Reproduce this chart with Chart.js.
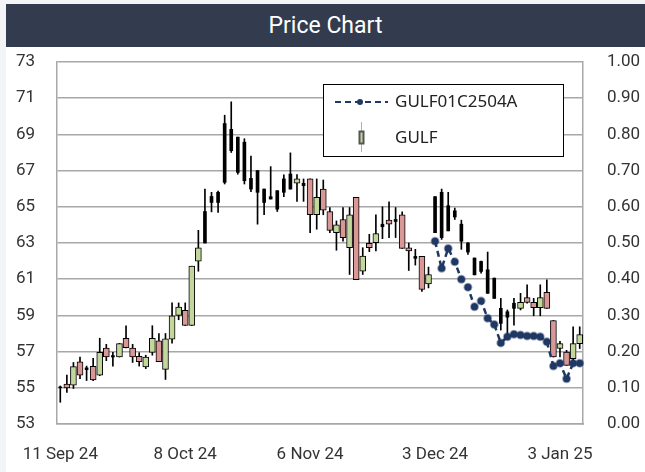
<!DOCTYPE html>
<html>
<head>
<meta charset="utf-8">
<script src="https://cdn.jsdelivr.net/npm/chart.js@4"></script>
<style>
  html, body { margin: 0; padding: 0; background: #f3f4f6; }
  #wrap { position: absolute; left: 6px; top: 4px; width: 639px; height: 468px; background: #fff; }
  #title { height: 43px; background: #333c4e; color: #fff; font: 400 23px Roboto, sans-serif;
           text-align: center; line-height: 43px; }
  canvas { display: block; }
</style>
</head>
<body>
<div id="wrap">
  <div id="title">Price Chart</div>
  <canvas id="precio" width="639" height="425"></canvas>
</div>
<script>
// trading days
const dates = [
  '11 Sep 24','12 Sep 24','13 Sep 24','16 Sep 24','17 Sep 24','18 Sep 24','19 Sep 24','20 Sep 24',
  '23 Sep 24','24 Sep 24','25 Sep 24','26 Sep 24','27 Sep 24','30 Sep 24','1 Oct 24','2 Oct 24',
  '3 Oct 24','4 Oct 24','7 Oct 24','8 Oct 24','9 Oct 24','10 Oct 24','11 Oct 24','15 Oct 24',
  '16 Oct 24','17 Oct 24','18 Oct 24','21 Oct 24','22 Oct 24','24 Oct 24','25 Oct 24','28 Oct 24',
  '29 Oct 24','30 Oct 24','31 Oct 24','1 Nov 24','4 Nov 24','5 Nov 24','6 Nov 24','7 Nov 24',
  '8 Nov 24','11 Nov 24','12 Nov 24','13 Nov 24','14 Nov 24','15 Nov 24','18 Nov 24','19 Nov 24',
  '20 Nov 24','21 Nov 24','22 Nov 24','25 Nov 24','26 Nov 24','27 Nov 24','28 Nov 24','29 Nov 24',
  '2 Dec 24','3 Dec 24','4 Dec 24','6 Dec 24','9 Dec 24','11 Dec 24','12 Dec 24','13 Dec 24',
  '16 Dec 24','17 Dec 24','18 Dec 24','19 Dec 24','20 Dec 24','23 Dec 24','24 Dec 24','25 Dec 24',
  '26 Dec 24','27 Dec 24','30 Dec 24','2 Jan 25','3 Jan 25','6 Jan 25','7 Jan 25','8 Jan 25'
];
const tickDates = ['11 Sep 24', '8 Oct 24', '6 Nov 24', '3 Dec 24', '3 Jan 25'];

// GULF OHLC
const open = [
  55.0, 55.2, 55.15, 56.44, 56.1, 56.19, 55.7, 57.19, 56.78, 56.7,
  57.74, 57.2, 56.74, 56.15, 56.96, 57.6, 56.02, 57.69, 59.0, 59.28,
  58.44, 62.0, 63.0, 65.24, 65.24, 66.35, 68.1, 66.9, 66.44, 65.98,
  65.8, 65.24, 65.43, 64.87, 65.8, 65.98, 66.3, 66.3, 66.54, 64.56,
  65.98, 64.74, 63.57, 64.3, 62.74, 65.52, 61.44, 62.98, 63.02, 63.9,
  64.26, 64.19, 64.56, 62.74, 62.26, 62.26, 60.74, 63.57, 63.3, 63.67,
  64.44, 63.1, 62.5, 61.24, 61.43, 60.22, 59.94, 58.56, 58.9, 59.39,
  59.39, 59.98, 59.72, 59.43, 60.28, 58.72, 57.17, 56.98, 56.61, 57.44
];
const high = [
  55.1, 55.7, 56.4, 56.7, 56.2, 56.63, 57.74, 57.4, 56.96, 57.45,
  58.43, 57.4, 56.94, 56.8, 58.43, 58.0, 58.0, 59.69, 59.69, 59.69,
  61.72, 63.7, 65.98, 65.8, 65.87, 70.06, 70.8, 68.85, 68.76, 67.8,
  67.0, 65.98, 67.22, 65.89, 66.76, 67.98, 66.78, 66.54, 66.54, 66.54,
  66.48, 64.96, 64.22, 64.96, 64.96, 65.52, 62.74, 63.48, 64.56, 65.0,
  65.28, 64.96, 64.72, 63.0, 62.65, 62.26, 61.67, 65.56, 65.98, 65.8,
  64.93, 64.26, 63.02, 62.17, 62.0, 62.5, 61.06, 59.94, 59.3, 59.94,
  60.22, 60.69, 59.94, 60.69, 60.96, 58.72, 57.57, 57.07, 58.37, 58.37
];
const low = [
  54.2, 54.74, 54.96, 55.5, 55.4, 55.4, 55.67, 56.5, 56.2, 56.7,
  57.2, 56.4, 56.2, 56.06, 56.8, 56.44, 55.46, 57.46, 58.76, 58.44,
  58.44, 61.44, 63.0, 64.72, 64.69, 66.26, 68.0, 66.8, 66.26, 65.83,
  64.04, 64.56, 65.43, 64.74, 65.56, 65.98, 65.3, 65.3, 63.57, 63.76,
  64.56, 63.57, 62.6, 63.1, 61.26, 60.98, 61.26, 62.52, 62.56, 63.24,
  63.3, 63.3, 62.7, 61.48, 61.78, 60.33, 60.52, 63.57, 63.2, 63.67,
  64.3, 62.65, 62.37, 61.24, 61.33, 60.22, 59.94, 58.19, 57.9, 58.46,
  59.3, 59.67, 58.98, 58.98, 59.39, 56.7, 56.7, 56.24, 56.46, 57.17
];
const close = [
  55.05, 55.0, 56.17, 55.7, 56.0, 55.43, 56.96, 56.7, 56.7, 57.44,
  57.22, 56.7, 56.44, 56.7, 57.74, 56.44, 57.7, 58.98, 59.46, 58.44,
  61.72, 62.74, 64.74, 65.57, 65.8, 69.6, 69.28, 68.85, 68.57, 66.57,
  67.0, 65.98, 65.56, 65.89, 66.54, 66.81, 66.54, 66.17, 64.56, 65.52,
  64.81, 63.7, 64.0, 63.3, 64.56, 60.98, 62.28, 62.74, 63.52, 64.04,
  64.04, 64.3, 62.7, 62.56, 62.15, 60.43, 61.26, 65.56, 65.8, 65.06,
  64.78, 64.04, 63.0, 62.17, 61.98, 61.52, 61.06, 59.39, 59.2, 59.67,
  59.72, 59.72, 59.43, 59.98, 59.39, 56.7, 57.44, 56.24, 57.44, 57.94
];
// days drawn as plain black candles
const darkDays = [0, 4, 8, 22, 23, 24, 25, 26, 27, 28, 29, 30, 31, 32, 33, 34, 35, 37,
  49, 51, 54, 57, 58, 59, 60, 61, 62, 63, 64, 65, 66, 67, 68, 69];

// GULF01C2504A, from 3 Dec 24
const dwDates = dates.slice(57);
const dwValues = [
  0.505, 0.43, 0.485, 0.448, 0.40, 0.378, 0.324, 0.34, 0.292, 0.275,
  0.224, 0.241, 0.248, 0.246, 0.243, 0.243, 0.241, 0.227, 0.16, 0.168,
  0.125, 0.168, 0.168
];

const navy = '#1f3864';
const verde = '#c3d69b';
const rojo = '#d99795';
const gris = '#a8a8a8';
const fuenteEje = { family: 'Roboto', size: 17 };

const wicks = dates.map((d, i) => [low[i], high[i]]);
const bodies = dates.map((d, i) => darkDays.includes(i) ? null : [open[i], close[i]]);
const darkBodies = dates.map((d, i) => darkDays.includes(i) ? [open[i], close[i]] : null);
const dw = dwDates.map((d, i) => ({ x: d, y: dwValues[i] }));

const legendBox = {
  id: 'legendBox',
  afterDatasetsDraw(chart) {
    const { ctx, chartArea: a } = chart;
    const x = Math.round(a.left + 266), y = Math.round(a.top + 22), w = 240, h = 72;
    ctx.save();
    ctx.fillStyle = '#fff';
    ctx.fillRect(x, y, w, h);
    ctx.strokeStyle = '#000';
    ctx.lineWidth = 1;
    ctx.strokeRect(x + 0.5, y + 0.5, w, h);

    const ly = y + 18;
    ctx.strokeStyle = navy;
    ctx.lineWidth = 2;
    ctx.setLineDash([6, 4]);
    ctx.beginPath();
    ctx.moveTo(x + 12, ly);
    ctx.lineTo(x + 65, ly);
    ctx.stroke();
    ctx.setLineDash([]);
    ctx.fillStyle = navy;
    ctx.beginPath();
    ctx.arc(x + 37, ly, 3, 0, Math.PI * 2);
    ctx.fill();

    ctx.font = '17px "Noto Sans"';
    ctx.fillStyle = '#222';
    ctx.textBaseline = 'middle';
    ctx.fillText(chart.data.datasets[3].label, x + 72, ly);

    const cy = y + 54;
    ctx.fillStyle = '#b0b0b0';
    ctx.fillRect(x + 38, cy - 16, 1, 30);
    ctx.fillStyle = verde;
    ctx.fillRect(x + 36, cy - 7, 5, 13);
    ctx.strokeStyle = '#555';
    ctx.strokeRect(x + 36.5, cy - 6.5, 4, 12);
    ctx.fillStyle = '#222';
    ctx.fillText(chart.data.datasets[1].label, x + 72, cy);
    ctx.restore();
  }
};

const ctx = document.getElementById('precio').getContext('2d');
new Chart(ctx, {
  data: {
    labels: dates,
    datasets: [
      {
        type: 'bar', label: 'wick', data: wicks,
        backgroundColor: '#000', barThickness: 1, grouped: false, order: 3, yAxisID: 'y'
      },
      {
        type: 'bar', label: 'GULF', data: bodies,
        backgroundColor: (c) => {
          const i = c.dataIndex;
          return close[i] >= open[i] ? verde : rojo;
        },
        borderColor: '#000', borderWidth: 1, borderSkipped: false,
        barThickness: 6, grouped: false, order: 2, yAxisID: 'y'
      },
      {
        type: 'bar', label: 'dark', data: darkBodies,
        backgroundColor: '#000', barThickness: 3, grouped: false, order: 2, yAxisID: 'y'
      },
      {
        type: 'line', label: 'GULF01C2504A', data: dw, yAxisID: 'y1',
        borderColor: navy, borderWidth: 2.5, borderDash: [6, 4],
        pointRadius: 3.5, pointBackgroundColor: navy, pointBorderColor: 'rgba(31,56,100,0.45)',
        pointBorderWidth: 2, tension: 0, order: 1
      }
    ]
  },
  options: {
    responsive: false,
    animation: false,
    layout: { padding: { top: 15 } },
    plugins: { legend: { display: false }, tooltip: { enabled: false } },
    scales: {
      x: {
        type: 'category',
        offset: true,
        grid: { display: false, drawTicks: false },
        border: { display: true, color: gris, width: 1.5 },
        ticks: {
          autoSkip: false, maxRotation: 0, padding: 21, color: '#333', font: fuenteEje,
          callback: function (v, i) { return tickDates.includes(dates[i]) ? dates[i] : ''; }
        },
        afterFit(s) { s.height = 48; s.paddingLeft = 0; s.paddingRight = 0; }
      },
      y: {
        position: 'left', min: 53, max: 73,
        ticks: { stepSize: 2, padding: 22, color: '#333', font: fuenteEje },
        grid: { color: gris, lineWidth: 1.5, drawTicks: false },
        border: { display: true, color: gris, width: 1.5 },
        afterFit(s) { s.width = 51; s.paddingTop = 0; s.paddingBottom = 0; }
      },
      y1: {
        position: 'right', min: 0, max: 1,
        ticks: { stepSize: 0.1, padding: 24, color: '#333', font: fuenteEje,
                 callback: (v) => v.toFixed(2) },
        grid: { display: false, drawTicks: false },
        border: { display: true, color: gris, width: 1.5 },
        afterFit(s) { s.width = 62; s.paddingTop = 0; s.paddingBottom = 0; }
      }
    }
  },
  plugins: [legendBox]
});
</script>
</body>
</html>
